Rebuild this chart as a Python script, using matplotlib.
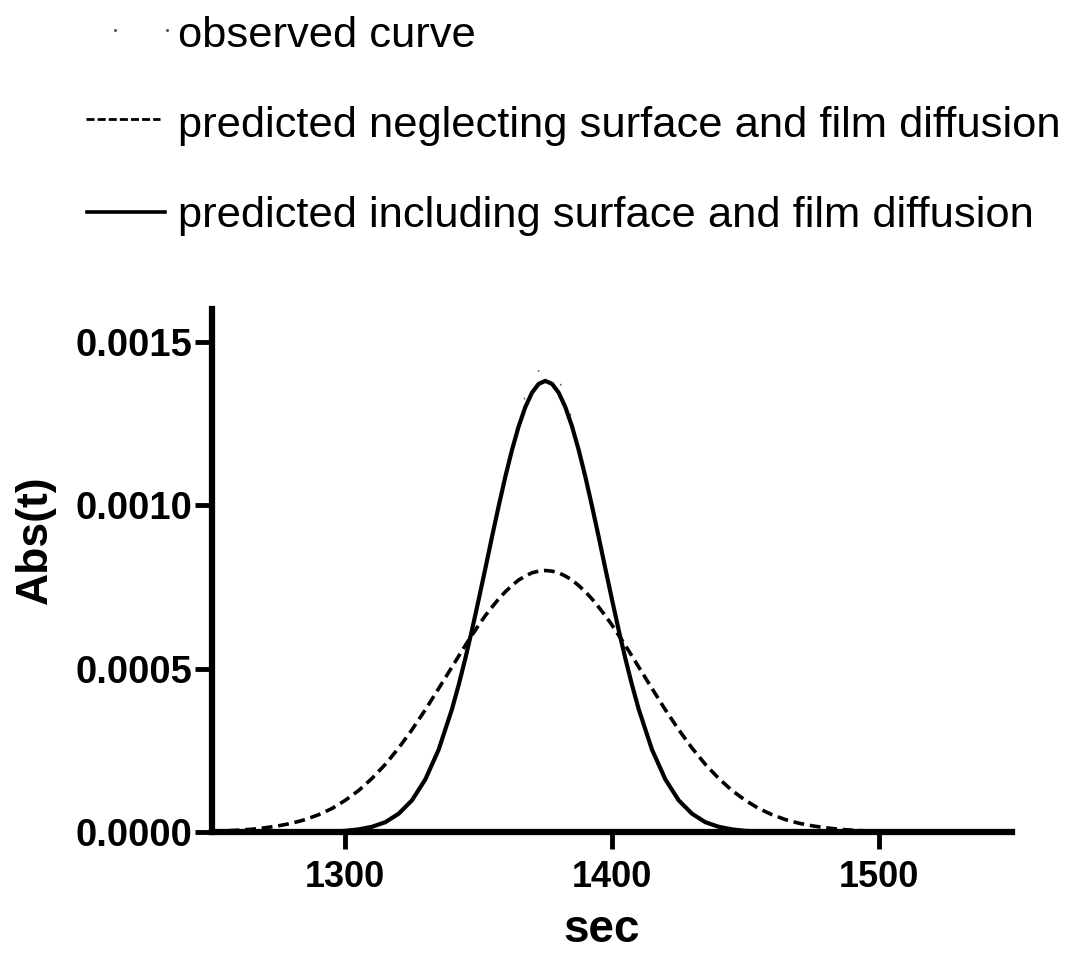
import matplotlib
matplotlib.use("Agg")
import matplotlib.pyplot as plt
from matplotlib.lines import Line2D
from matplotlib.ticker import FormatStrFormatter

plt.rcParams["font.family"] = ["Liberation Sans", "DejaVu Sans"]

# ---- data -------------------------------------------------------------
# sample times: 5 s steps on the flanks, 2.5 s steps around the peak
time_s = (list(range(1250, 1340, 5))
          + [1340 + 2.5 * i for i in range(29)]
          + list(range(1415, 1551, 5)))

# observed absorbance (sparse dotted trace)
observed = [v * 1e-4 for v in [
    0, 0, 0, 0, 0, 0, 0, 0.002, 0.006, 0.015,
    0.035, 0.08, 0.16, 0.30, 0.56, 0.97, 1.61, 2.52,
    3.76, 4.50, 5.31, 6.18, 7.11, 8.06, 9.03, 9.97, 10.87, 11.80,
    12.60, 13.35, 13.85, 14.11, 14.20, 14.11, 13.85, 13.35, 12.60, 11.80,
    10.87, 9.97, 9.03, 8.06, 7.11, 6.18, 5.31, 4.50, 3.76,
    2.52, 1.61, 0.97, 0.56, 0.30, 0.16, 0.08, 0.035, 0.015, 0.006,
    0.002, 0, 0, 0, 0, 0, 0, 0, 0, 0,
    0, 0, 0, 0, 0, 0, 0, 0]]

# model neglecting surface and film diffusion
neglecting = [v * 1e-4 for v in [
    0.023, 0.036, 0.056, 0.085, 0.13, 0.19, 0.27, 0.38, 0.53, 0.72,
    0.97, 1.27, 1.64, 2.07, 2.57, 3.13, 3.74, 4.39,
    5.05, 5.38, 5.71, 6.02, 6.33, 6.62, 6.88, 7.13, 7.35, 7.54,
    7.71, 7.83, 7.93, 7.98, 8.00, 7.98, 7.93, 7.83, 7.71, 7.54,
    7.35, 7.13, 6.88, 6.62, 6.33, 6.02, 5.71, 5.38, 5.05,
    4.39, 3.74, 3.13, 2.57, 2.07, 1.64, 1.27, 0.97, 0.72, 0.53,
    0.38, 0.27, 0.19, 0.13, 0.085, 0.056, 0.036, 0.023, 0.014, 0.009,
    0.005, 0.003, 0.002, 0.001, 0.0005, 0, 0, 0]]

# model including surface and film diffusion
including = [v * 1e-4 for v in [
    0, 0, 0, 0, 0, 0, 0, 0.002, 0.006, 0.015,
    0.035, 0.08, 0.16, 0.30, 0.56, 0.97, 1.61, 2.52,
    3.76, 4.50, 5.31, 6.18, 7.11, 8.06, 9.03, 9.97, 10.87, 11.69,
    12.41, 13.00, 13.44, 13.71, 13.80, 13.71, 13.44, 13.00, 12.41, 11.69,
    10.87, 9.97, 9.03, 8.06, 7.11, 6.18, 5.31, 4.50, 3.76,
    2.52, 1.61, 0.97, 0.56, 0.30, 0.16, 0.08, 0.035, 0.015, 0.006,
    0.002, 0, 0, 0, 0, 0, 0, 0, 0, 0,
    0, 0, 0, 0, 0, 0, 0, 0]]

x_ticks = [1300, 1400, 1500]
y_ticks = [0.0, 0.0005, 0.0010, 0.0015]

legend_labels = [
    "observed curve",
    "predicted neglecting surface and film diffusion",
    "predicted including surface and film diffusion",
]

# ---- figure -----------------------------------------------------------
W, H = 1074, 955
fig = plt.figure(figsize=(W / 100, H / 100), dpi=100)
fig.patch.set_facecolor("white")


def fx(px):
    return px / W


def fy(py):
    return 1 - py / H


ax = fig.add_axes([fx(212), fy(832), fx(1012) - fx(212), fy(309) - fy(832)])

ax.plot(time_s, observed, color="0.3", lw=1.0, linestyle=(0, (0.6, 22)),
        dash_capstyle="round", zorder=2)
ax.plot(time_s, neglecting, color="black", lw=2.6, linestyle=(0, (3.0, 1.6)),
        zorder=3)
ax.plot(time_s, including, color="black", lw=3.0, solid_joinstyle="round",
        zorder=4)

ax.set_xlim(1250, 1550)
ax.set_ylim(0, 0.0016)
for side in ("top", "right"):
    ax.spines[side].set_visible(False)
for side in ("left", "bottom"):
    ax.spines[side].set_linewidth(4.5)
    ax.spines[side].set_zorder(5)

ax.set_xticks(x_ticks)
ax.set_yticks(y_ticks)
ax.yaxis.set_major_formatter(FormatStrFormatter("%.4f"))
ax.tick_params(axis="both", direction="out", length=12, width=3.5)
ax.tick_params(axis="x", pad=8, labelsize=26)
ax.tick_params(axis="y", pad=2, labelsize=27.5)
for lbl in ax.get_xticklabels() + ax.get_yticklabels():
    lbl.set_fontweight("bold")

# axis titles
fig.text(fx(35), fy(540), "Abs(t)", rotation=90, ha="center", va="center",
         fontsize=32, fontweight="bold")
fig.text(fx(602), fy(942), "sec", ha="center", va="baseline",
         fontsize=33, fontweight="bold")

# ---- legend -----------------------------------------------------------
fig.add_artist(Line2D([fx(115), fx(167)], [fy(30), fy(30)],
                      transform=fig.transFigure, linestyle="none",
                      marker=".", markersize=2.5, color="0.35"))
fig.add_artist(Line2D([fx(86), fx(160)], [fy(119), fy(119)],
                      transform=fig.transFigure, color="black", lw=2.0,
                      linestyle=(0, (2.9, 1.1))))
fig.add_artist(Line2D([fx(87), fx(165)], [fy(212), fy(212)],
                      transform=fig.transFigure, color="black", lw=2.6))

for label, base in zip(legend_labels, [47, 137, 227]):
    fig.text(fx(178), fy(base), label, ha="left", va="baseline",
             fontsize=31.3, color="black")

fig.savefig("out.png", dpi=100, facecolor="white")
